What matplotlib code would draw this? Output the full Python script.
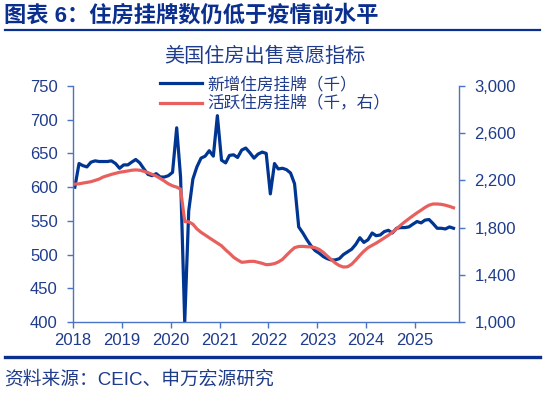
import matplotlib
matplotlib.use("Agg")
import matplotlib.pyplot as plt
import matplotlib.dates as mdates
from matplotlib.lines import Line2D
from matplotlib.ticker import FuncFormatter
import pandas as pd

plt.rcParams['font.family'] = ['Liberation Sans', 'Noto Sans CJK SC']

# monthly data, Jan 2018 - Oct 2025
start_month = '2018-01'
# new listings, thousands (left axis)
new_listings = [
    600, 635, 632, 630, 637, 639, 638, 638, 638, 639, 635, 628,
    633, 633, 637, 641, 636, 627, 619, 617, 620, 615, 615, 617,
    622, 688, 615, 400, 565, 612, 630, 643, 646, 654, 646, 706,
    640, 636, 647, 648, 644, 655, 658, 651, 643, 649, 652, 650,
    590, 635, 627, 628, 626, 621, 605, 541, 532, 522, 513, 506,
    502, 497, 494, 492, 492, 494, 500, 504, 508, 515, 525, 518,
    522, 532, 528, 529, 534, 536, 532, 539, 540, 540, 541, 545,
    549, 547, 551, 552, 546, 539, 539, 538, 541, 539,
]
# active listings, thousands (right axis)
active_listings = [
    2169, 2171, 2177, 2183, 2189, 2200, 2211, 2229, 2240, 2251, 2260, 2269,
    2274, 2280, 2286, 2289, 2286, 2277, 2266, 2251, 2237, 2217, 2194, 2171,
    2154, 2143, 2126, 1851, 1849, 1829, 1789, 1760, 1737, 1714, 1691, 1669,
    1646, 1611, 1583, 1549, 1526, 1506, 1509, 1514, 1514, 1506, 1497, 1486,
    1488, 1495, 1508, 1530, 1565, 1600, 1630, 1640, 1641, 1638, 1636, 1630,
    1615, 1590, 1560, 1530, 1500, 1478, 1466, 1468, 1490, 1525, 1565, 1600,
    1630, 1650, 1668, 1690, 1712, 1735, 1760, 1790, 1820, 1848, 1875, 1900,
    1925, 1948, 1970, 1990, 2000, 2000, 1997, 1990, 1980, 1968,
]
year_ticks = list(range(2018, 2026))
left_ticks = list(range(400, 751, 50))
right_ticks = list(range(1000, 3001, 400))

title = '图表 6：住房挂牌数仍低于疫情前水平'
chart_title = '美国住房出售意愿指标'
label_new = '新增住房挂牌（千）'
label_active = '活跃住房挂牌（千，右）'
source = '资料来源：CEIC、申万宏源研究'

navy = '#0A2F8F'
text_c = '#1F3C8C'
spine_c = '#4A74C6'
blue = '#003591'
red = '#E8605E'

dates = pd.date_range(start_month, periods=len(new_listings), freq='MS') + pd.Timedelta(days=14)

fig = plt.figure(figsize=(5.45, 3.94), dpi=100)
ax = fig.add_axes([73 / 545, 1 - 322 / 394, (459 - 73) / 545, (322 - 86) / 394])
ax2 = ax.twinx()

ax.plot(dates, new_listings, color=blue, lw=2.3, label=label_new, solid_joinstyle='round')
ax2.plot(dates, active_listings, color=red, lw=2.3, label=label_active)

ax.set_xlim(pd.Timestamp('2018-01-01'), pd.Timestamp('2025-11-25'))
ax.set_ylim(400, 750)
ax2.set_ylim(1000, 3000)
ax.set_xticks([pd.Timestamp(f'{y}-01-01') for y in year_ticks])
ax.xaxis.set_major_formatter(mdates.DateFormatter('%Y'))
ax.set_yticks(left_ticks)
ax2.set_yticks(right_ticks)
ax2.yaxis.set_major_formatter(FuncFormatter(lambda v, p: f'{int(v):,}'))

for a in (ax, ax2):
    a.spines['top'].set_visible(False)
    for s in ('left', 'right', 'bottom'):
        a.spines[s].set_color(spine_c)
        a.spines[s].set_linewidth(1.0)
    a.tick_params(colors=spine_c, labelcolor=text_c, labelsize=12, length=4, width=1)
ax.spines['right'].set_visible(False)
ax2.spines['left'].set_visible(False)
ax2.spines['bottom'].set_visible(False)
ax.tick_params(axis='y', pad=7)
ax2.tick_params(axis='y', pad=7)
ax.tick_params(axis='x', pad=4)

# legend
handles = [Line2D([], [], color=blue, lw=2.3), Line2D([], [], color=red, lw=2.3)]
fig.legend(handles, [label_new, label_active], loc='upper left',
           bbox_to_anchor=(152 / 545, 1 - 68 / 394), frameon=False,
           fontsize=12, handlelength=2.5, handletextpad=0.3,
           labelspacing=0.2, borderpad=0, labelcolor=text_c)

fig.text(265 / 545, 1 - 56 / 394, chart_title, ha='center', va='center',
         fontsize=14.5, color=text_c)
fig.text(4 / 545, 1 - 16 / 394, title, ha='left', va='center',
         fontsize=16, fontweight='bold', color=navy)
fig.text(4 / 545, 1 - 380 / 394, source, ha='left', va='center',
         fontsize=13.5, color=text_c)

fig.add_artist(Line2D([5 / 545, 540 / 545], [1 - 30 / 394, 1 - 30 / 394],
                      transform=fig.transFigure, color=navy, lw=1.6))
fig.add_artist(Line2D([5 / 545, 540 / 545], [1 - 357 / 394, 1 - 357 / 394],
                      transform=fig.transFigure, color=navy, lw=2.4))

fig.savefig('out.png', dpi=100)
